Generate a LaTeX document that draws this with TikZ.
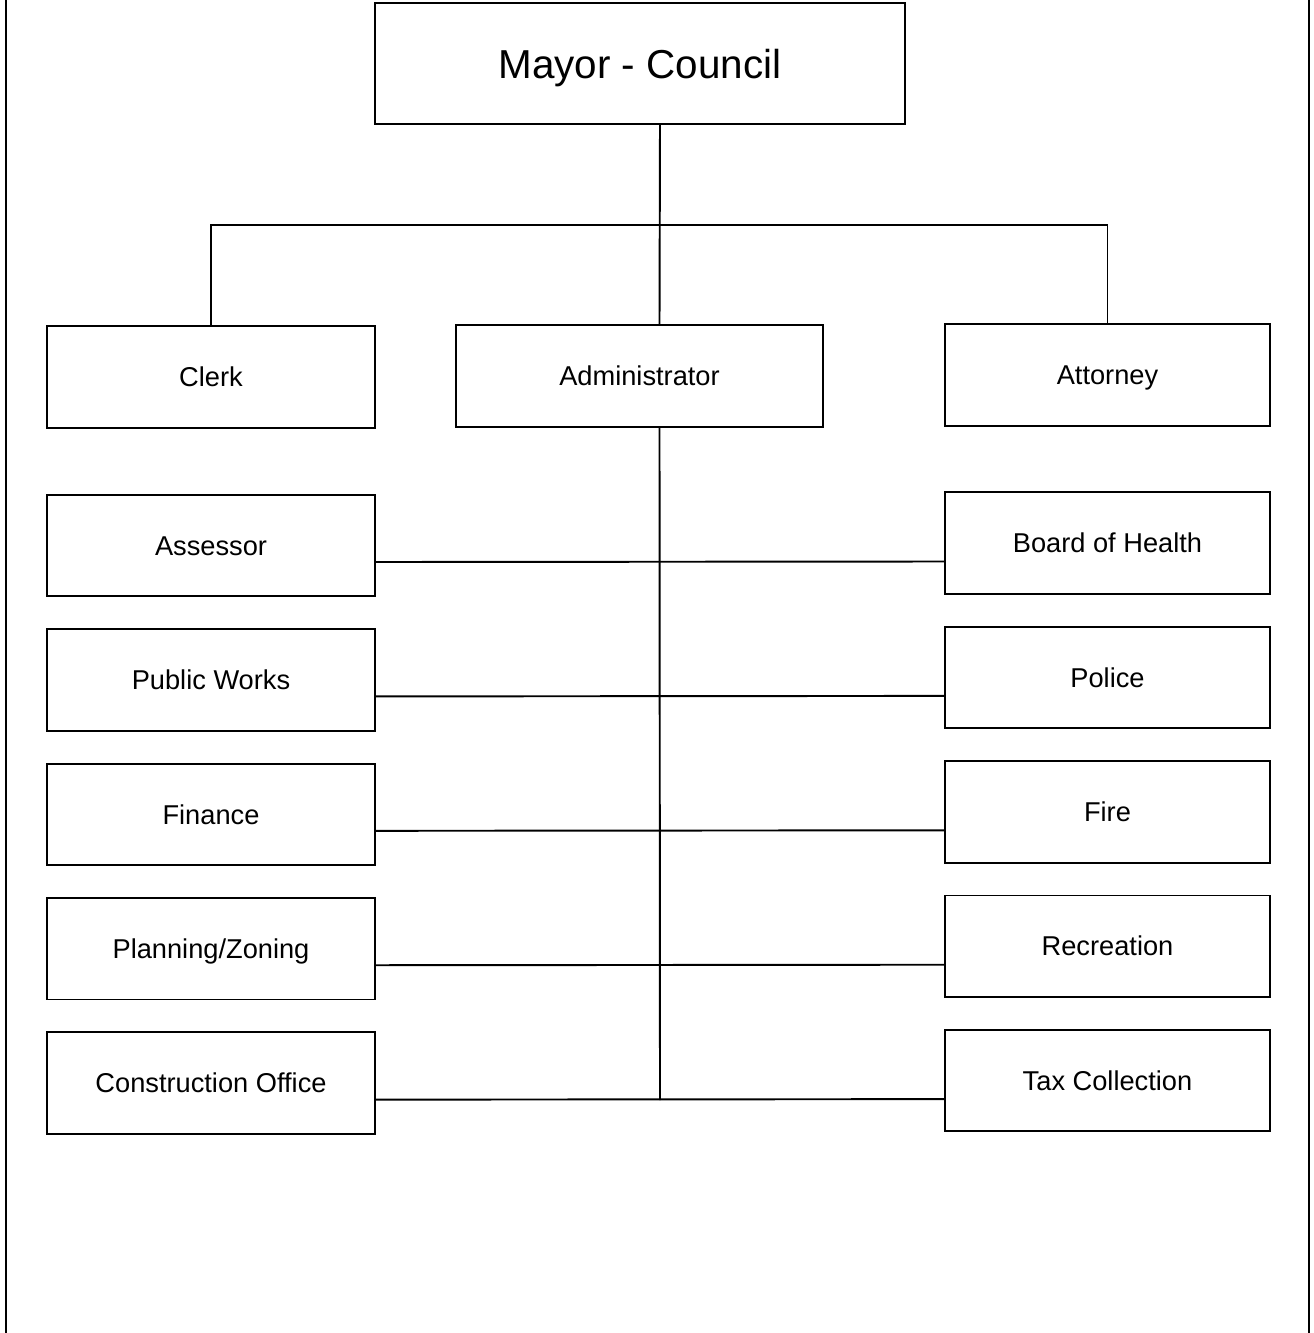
\documentclass[tikz,border=0pt]{standalone}
\usepackage{fontspec}
\setmainfont{Liberation Sans}
\usetikzlibrary{positioning}

\begin{document}
\begin{tikzpicture}[x=0.02cm,y=-0.02cm,line width=1.1pt,
		office/.style={draw=black,minimum width=6.56cm,minimum height=2.03cm,text height=11.1pt,text depth=0pt,font=\fontsize{15.5}{18}\selectfont},
		dept/.style={draw=black,minimum width=6.5cm,minimum height=2.03cm,text height=11.1pt,text depth=0pt,font=\fontsize{15.5}{18}\selectfont}]
	\useasboundingbox (0,0) rectangle (1314,1333);
	
	% page frame
	\draw (6,0) -- (6,1333);
	\draw (1309,0) -- (1309,1333);
	
	% top box
	\node[draw=black,minimum width=10.6cm,minimum height=2.42cm,text height=16.5pt,text depth=0pt,font=\fontsize{23}{27}\selectfont] (mayor) at (640,63.5){Mayor - Council};
	
	%second row
	\node[office] (clerk) at (211,377){Clerk};
	\node[office,minimum width=7.34cm] (admin) at (639.5,376){Administrator};
	\node[dept] (attorney) at (1107.5,375){Attorney};
	
	%left column
	\node[office] (assessor) at (211,545.5){Assessor};
	\node[office] (works) [below=0.62cm of assessor]{Public Works};
	\node[office] (finance) [below=0.62cm of works]{Finance};
	\node[office] (planning) [below=0.62cm of finance]{Planning/Zoning};
	\node[office] (construction) [below=0.62cm of planning]{Construction Office};
	
	%right column
	\node[dept] (health) at (1107.5,543){Board of Health};
	\node[dept] (police) [below=0.62cm of health]{Police};
	\node[dept] (fire) [below=0.62cm of police]{Fire};
	\node[dept] (recreation) [below=0.62cm of fire]{Recreation};
	\node[dept] (tax) [below=0.62cm of recreation]{Tax Collection};
	
	\coordinate (bar) at (660,225);
	\coordinate (trunkend) at (660,1100);
	
	\draw ([xshift=0.4 cm]mayor.south) -- ([xshift=0.4 cm]admin.north);
	\draw (clerk.north) |- (bar) -| (attorney.north);
	\draw ([xshift=0.4 cm]admin.south) -- (trunkend);
	
	\draw ([yshift=-0.33 cm]assessor.east) -- ([yshift=-0.37 cm]health.west);
	\draw ([yshift=-0.33 cm]works.east) -- ([yshift=-0.37 cm]police.west);
	\draw ([yshift=-0.33 cm]finance.east) -- ([yshift=-0.37 cm]fire.west);
	\draw ([yshift=-0.33 cm]planning.east) -- ([yshift=-0.37 cm]recreation.west);
	\draw ([yshift=-0.33 cm]construction.east) -- ([yshift=-0.37 cm]tax.west);
	
\end{tikzpicture}
\end{document}
